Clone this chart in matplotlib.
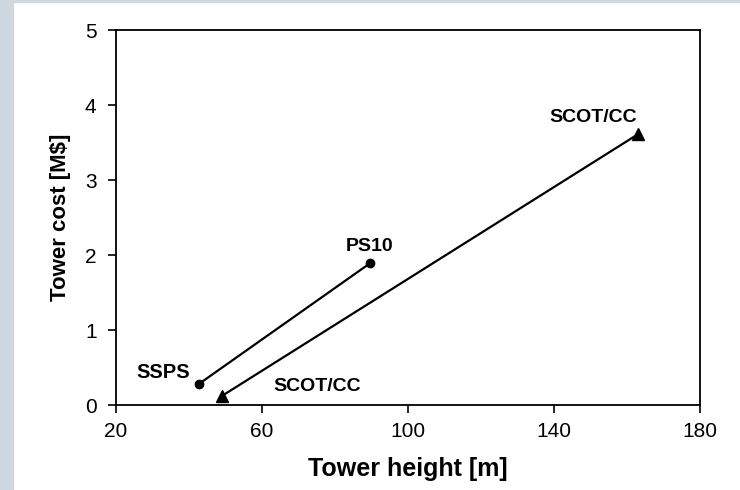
import matplotlib
matplotlib.use("Agg")
import matplotlib.pyplot as plt

plt.rcParams['font.family'] = ['Liberation Sans', 'DejaVu Sans']

# data
ps_names = ["SSPS", "PS10"]
ps_height = [42.7, 89.6]
ps_cost = [0.28, 1.89]

scot_names = ["SCOT/CC", "SCOT/CC"]
scot_height = [49.0, 163.0]
scot_cost = [0.12, 3.61]

xticks = [20, 60, 100, 140, 180]
yticks = [0, 1, 2, 3, 4, 5]

fig = plt.figure(figsize=(7.4, 4.9), dpi=100)
fig.patch.set_facecolor('white')
# left grey-blue strip and top strip
fig.add_artist(plt.Rectangle((0, 0), 13/740, 1, transform=fig.transFigure, color='#cdd8e1', zorder=0))
fig.add_artist(plt.Rectangle((0, 1 - 2/490), 1, 2/490, transform=fig.transFigure, color='#cdd8e1', zorder=0))

ax = fig.add_axes([116/740, 1 - 405/490, (700-116)/740, (405-30)/490])
ax.set_xlim(20, 180)
ax.set_ylim(0, 5)
ax.set_xticks(xticks)
ax.set_yticks(yticks)
ax.tick_params(direction='out', length=6, width=1.2, labelsize=15)
ax.tick_params(axis='x', pad=6)
ax.tick_params(axis='y', pad=8)
for s in ax.spines.values():
    s.set_linewidth(1.3)

ax.plot(ps_height, ps_cost, color='black', lw=1.6, marker='o', markersize=6)
ax.plot(scot_height, scot_cost, color='black', lw=1.6, marker='^', markersize=9)

ax.annotate(ps_names[0], (ps_height[0], ps_cost[0]), xytext=(-26, 8), textcoords='offset points',
            ha='center', va='center', fontsize=14.5, fontweight='bold')
ax.annotate(ps_names[1], (ps_height[1], ps_cost[1]), xytext=(0, 12), textcoords='offset points',
            ha='center', va='center', fontsize=14, fontweight='bold')
ax.annotate(scot_names[1], (scot_height[1], scot_cost[1]), xytext=(-32, 12), textcoords='offset points',
            ha='center', va='center', fontsize=14, fontweight='bold')
ax.annotate(scot_names[0], (scot_height[0], scot_cost[0]), xytext=(69, 6.5), textcoords='offset points',
            ha='center', va='center', fontsize=14, fontweight='bold')

ax.set_xlabel("Tower height [m]", fontsize=18, fontweight='bold', labelpad=12)
ax.set_ylabel("Tower cost [M$]", fontsize=16, fontweight='bold', labelpad=10)

fig.savefig("out.png", dpi=100)
